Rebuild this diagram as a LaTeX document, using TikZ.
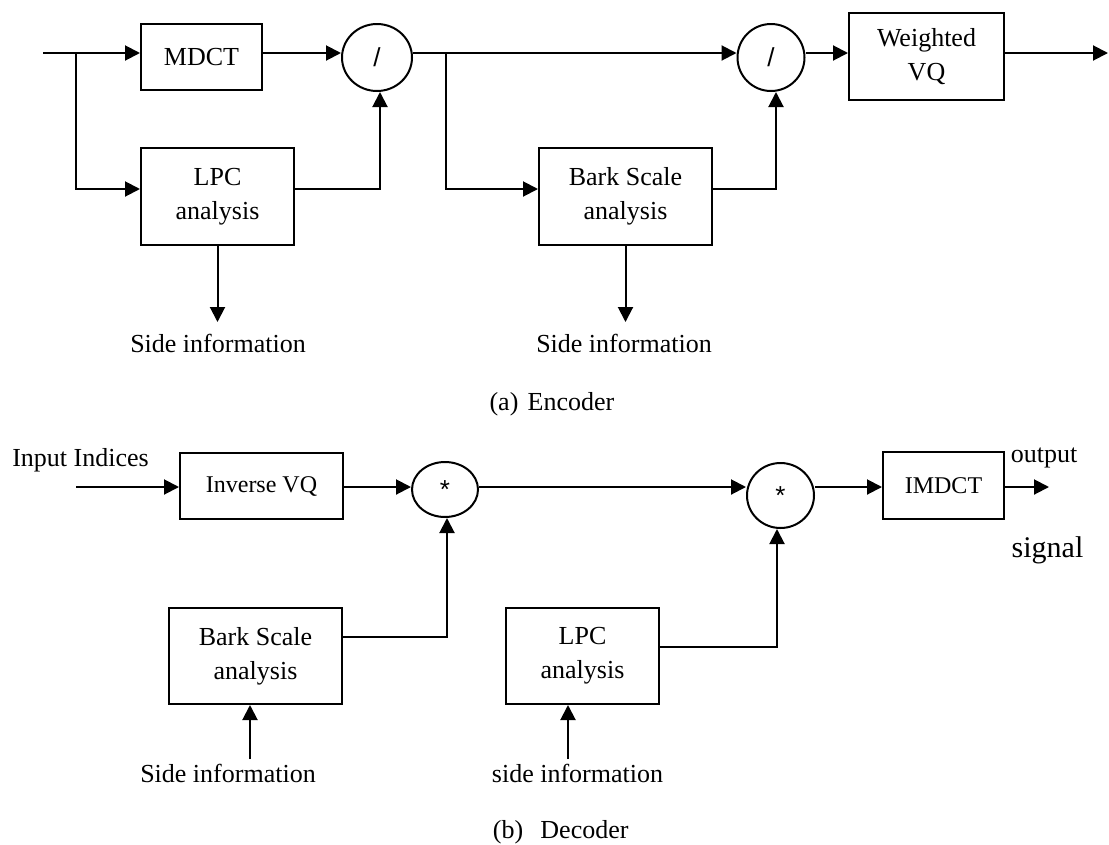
\documentclass[tikz,border=0pt]{standalone}
\usepackage{fontspec}
\setmainfont{Liberation Serif}
\newfontfamily\symfont{Liberation Sans}
\usetikzlibrary{arrows.meta,shapes.geometric}
\begin{document}
\begin{tikzpicture}[x=1pt,y=-1pt,
  lw/.style={line width=2pt},
  arr/.style={lw,-{Triangle[length=15pt,width=15pt]}},
  blk/.style={draw,lw,inner sep=0pt,align=center,font=\fontsize{26}{34}\selectfont},
  sblk/.style={blk,font=\fontsize{24}{30}\selectfont},
  op/.style={draw,lw,ellipse,inner sep=0pt,font=\symfont\fontsize{26}{26}\selectfont},
  lbl/.style={inner sep=0pt,font=\fontsize{26}{30}\selectfont},
  captxt/.style={lbl,anchor=base},
]
\useasboundingbox (0,0) rectangle (1109,844);
% ---------- Encoder ----------
\node[blk,minimum width=121pt,minimum height=66pt] (mdct) at (201.5,57) {MDCT};
\node[blk,minimum width=153pt,minimum height=97pt] (lpc) at (217.5,196.5) {LPC\\analysis};
\node[blk,minimum width=173pt,minimum height=97pt] (bark) at (625.5,196.5) {Bark Scale\\analysis};
\node[blk,minimum width=155pt,minimum height=87pt] (wvq) at (926.5,56.5) {Weighted\\VQ};
\node[op,minimum width=70pt,minimum height=67pt] (c1) at (377,57.5) {/};
\node[op,minimum width=67pt,minimum height=67pt] (c2) at (771,57.5) {/};

\coordinate (ein) at (43,53);
\coordinate (j1) at (76,53);
\coordinate (j2) at (446,53);
\coordinate (eout) at (1108,53);
\coordinate (t1) at (218,322);
\coordinate (t2) at (625,322);

\draw[lw] (ein) -- (j1);
\draw[arr] (j1) -- (mdct.west |- j1);
\draw[arr] (j1) |- ([yshift=7.5pt]lpc.west);
\draw[arr] (mdct.east |- j1) -- (c1.west |- j1);
\draw[arr] ([yshift=7.5pt]lpc.east) -| ([xshift=3pt]c1.south);
\draw[arr] (c1.east |- j1) -- (c2.west |- j1);
\draw[arr] (j2) |- ([yshift=7.5pt]bark.west);
\draw[arr] ([yshift=7.5pt]bark.east) -| ([xshift=5pt]c2.south);
\draw[arr] (c2.east |- j1) -- (wvq.west |- j1);
\draw[arr] (wvq.east |- j1) -- (eout);
\draw[arr] (lpc.south) -- (lpc.south |- t1);
\draw[arr] (bark.south) -- (bark.south |- t2);

\node[lbl] (si1) at (218,343) {Side information};
\node[lbl] (si2) at (624,343) {Side information};
\node[captxt] (capa) at (504,410) {(a)};
\node[captxt] (capaa) at (571,410) {Encoder};

% ---------- Decoder ----------
\node[sblk,minimum width=163pt,minimum height=66pt] (ivq) at (261.5,486) {Inverse VQ};
\node[sblk,minimum width=121pt,minimum height=67pt] (imdct) at (943.5,485.5) {IMDCT};
\node[blk,minimum width=173pt,minimum height=96pt] (dbark) at (255.5,656) {Bark Scale\\analysis};
\node[blk,minimum width=153pt,minimum height=96pt] (dlpc) at (582.5,656) {LPC\\analysis};
\node[op,minimum width=66pt,minimum height=55pt] (c3) at (445,489.5) {*};
\node[op,minimum width=67pt,minimum height=65pt] (c4) at (780.5,495.5) {*};

\coordinate (din) at (76,487);
\coordinate (dout) at (1049,487);
\coordinate (a3) at (250,759);
\coordinate (a4) at (568,759);

\draw[arr] (din) -- (ivq.west |- din);
\draw[arr] (ivq.east |- din) -- (c3.west |- din);
\draw[arr] (c3.east |- din) -- (c4.west |- din);
\draw[arr] (c4.east |- din) -- (imdct.west |- din);
\draw[arr] (imdct.east |- din) -- (dout);
\draw[arr] ([yshift=19pt]dbark.east) -| ([xshift=2pt]c3.south);
\draw[arr] ([yshift=9pt]dlpc.east) -| ([xshift=-3.5pt]c4.south);
\draw[arr] (a3) -- (a3 |- dbark.south);
\draw[arr] (a4) -- (a4 |- dlpc.south);

\node[lbl] (inp) at (80.5,460) {Input Indices};
\node[lbl] (outp) at (1044,458) {output};
\node[lbl,font=\fontsize{30}{34}\selectfont] (sig) at (1047.5,550) {signal};
\node[lbl] (si3) at (228,773) {Side information};
\node[lbl] (si4) at (577.5,773) {side information};
\node[captxt] (capb) at (508,838) {(b)};
\node[captxt] (capbb) at (584.5,838) {Decoder};
\end{tikzpicture}
\end{document}
